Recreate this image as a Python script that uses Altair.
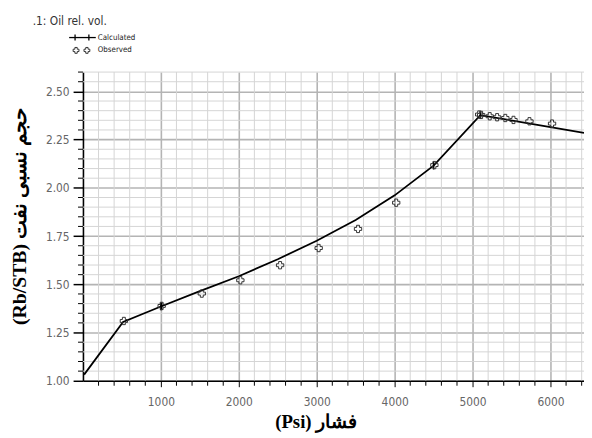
import altair as alt
import pandas as pd

# ---- data ----
calc_p = [15, 515, 1000, 1500, 2000, 2500, 3000, 3500, 4000, 4500, 5100, 6000, 6430]
calc_v = [1.032, 1.305, 1.385, 1.465, 1.542, 1.630, 1.726, 1.833, 1.961, 2.115, 2.377, 2.315, 2.285]

obs_p = [525, 1010, 1525, 2020, 2530, 3025, 3530, 4020, 4510, 5085, 5110, 5220, 5315, 5420, 5525, 5730, 6020]
obs_v = [1.310, 1.388, 1.452, 1.521, 1.599, 1.688, 1.787, 1.923, 2.118, 2.380, 2.378, 2.371, 2.366, 2.362, 2.352, 2.345, 2.333]

tick_p = [1000, 1010, 4500, 5100]          # calculated markers visible on the curve
tick_v = [1.385, 1.386, 2.115, 2.377]

x_major = [1000, 2000, 3000, 4000, 5000, 6000]
x_minor = [v for v in range(0, 6600, 200) if v % 1000 != 0]
y_major = [1.00, 1.25, 1.50, 1.75, 2.00, 2.25, 2.50]
y_minor = [round(1.0 + 0.05 * i, 2) for i in range(33)]
y_minor = [v for v in y_minor if abs(v * 4 - round(v * 4)) > 1e-6]

chart_title = ".1: Oil rel. vol."
legend_names = ["Calculated", "Observed"]
x_title = "(Psi) فشار"
y_title = "(Rb/STB) حجم نسبی نفت"

X_DOM = [0, 6430]
Y_DOM = [1.0, 2.6]
NARROW = "Liberation Sans Narrow, DejaVu Sans Condensed, Arial Narrow, sans-serif"
SERIF = "Liberation Serif, Times New Roman, serif"

calc = pd.DataFrame({"p": calc_p, "v": calc_v})
obs = pd.DataFrame({"p": obs_p, "v": obs_v})
ticks = pd.DataFrame({"p": tick_p, "v": tick_v})

xs = alt.Scale(domain=X_DOM, nice=False, zero=False)
ys = alt.Scale(domain=Y_DOM, nice=False, zero=False)

XAX = alt.Axis(values=x_major, grid=True, gridColor="#b4b4b4", gridWidth=1.6,
               domainColor="black", domainWidth=1.6, tickColor="black",
               tickSize=6, tickWidth=1, labelColor="#666666", labelFont=NARROW,
               labelFontSize=12, labelPadding=10, format="d",
               title=x_title, titleFont=SERIF, titleFontWeight="bold",
               titleFontSize=19, titleColor="black", titleX=236, titleY=47,
               titleBaseline="alphabetic", titleAlign="center")
YAX = alt.Axis(values=y_major, grid=True, gridColor="#b4b4b4", gridWidth=1.6,
               domainColor="black", domainWidth=1.6, tickColor="black",
               tickSize=10, tickWidth=1.5, labelColor="#666666", labelFont=NARROW,
               labelFontSize=12, labelPadding=4, format=".2f",
               title=y_title, titleFont=SERIF, titleFontWeight="bold",
               titleFontSize=20, titleColor="black", titleAngle=270,
               titleX=-64, titleY=146, titleAlign="center",
               titleBaseline="middle")

X = lambda: alt.X("p:Q", scale=xs, axis=XAX)
Y = lambda: alt.Y("v:Q", scale=ys, axis=YAX)

xgrid_minor = alt.Chart(pd.DataFrame({"p": x_minor})).mark_rule(
    color="#d4d4d4", strokeWidth=1).encode(x=X())
ygrid_minor = alt.Chart(pd.DataFrame({"v": y_minor})).mark_rule(
    color="#d4d4d4", strokeWidth=1).encode(y=Y())

xtick_minor = alt.Chart(pd.DataFrame({"p": x_minor})).mark_rule(
    color="black", strokeWidth=1).encode(
    x=X(), y=alt.value(313), y2=alt.value(318))
ytick_minor = alt.Chart(pd.DataFrame({"v": y_minor})).mark_rule(
    color="black", strokeWidth=1).encode(
    y=Y(), x=alt.value(-5), x2=alt.value(0))

line = alt.Chart(calc).mark_line(color="black", strokeWidth=1.8, clip=True).encode(
    x=X(), y=Y())

calc_marks = alt.Chart(ticks).mark_point(
    shape="M0,-1L0,1", filled=False, color="black", strokeWidth=1.6, size=60, opacity=1
).encode(x=X(), y=Y())

obs_marks = alt.Chart(obs).mark_point(
    shape="cross", filled=False, color="#333333", strokeWidth=1, size=55, opacity=1
).encode(x=X(), y=Y())

# ---- title & legend ----
title_txt = alt.Chart(pd.DataFrame({"t": [chart_title]})).mark_text(
    align="left", baseline="middle", font=NARROW, fontSize=12, color="#333333"
).encode(text="t:N", x=alt.value(-51), y=alt.value(-52))

leg_txt = alt.Chart(pd.DataFrame({"t": legend_names, "yy": [-35, -22]})).mark_text(
    align="left", baseline="middle", font=NARROW, fontSize=8, color="#222222"
).encode(text="t:N", x=alt.value(15), y=alt.Y("yy:Q", scale=None, axis=None))

leg_line = alt.Chart(pd.DataFrame({"t": ["Calculated"]})).mark_rule(
    color="black", strokeWidth=1.3).encode(
    x=alt.value(-14), x2=alt.value(13), y=alt.value(-35))
leg_ticks = alt.Chart(pd.DataFrame({"xx": [-8, 6]})).mark_rule(
    color="black", strokeWidth=1.3).encode(
    x=alt.X("xx:Q", scale=None, axis=None), y=alt.value(-38), y2=alt.value(-32))
leg_obs = alt.Chart(pd.DataFrame({"xx": [-7, 4]})).mark_point(
    shape="cross", filled=False, color="#333333", strokeWidth=1, size=35, opacity=1).encode(
    x=alt.X("xx:Q", scale=None, axis=None), y=alt.value(-22))

chart = alt.layer(
    xgrid_minor, ygrid_minor, line, xtick_minor, ytick_minor, calc_marks, obs_marks,
    title_txt, leg_txt, leg_line, leg_ticks, leg_obs
).properties(
    width=508, height=313,
    autosize="none",
    padding={"left": 76, "top": 62, "right": 0, "bottom": 52},
    background="white",
).configure_view(stroke=None)

chart.save("out.html", embed_options={"renderer": "svg", "actions": False})
